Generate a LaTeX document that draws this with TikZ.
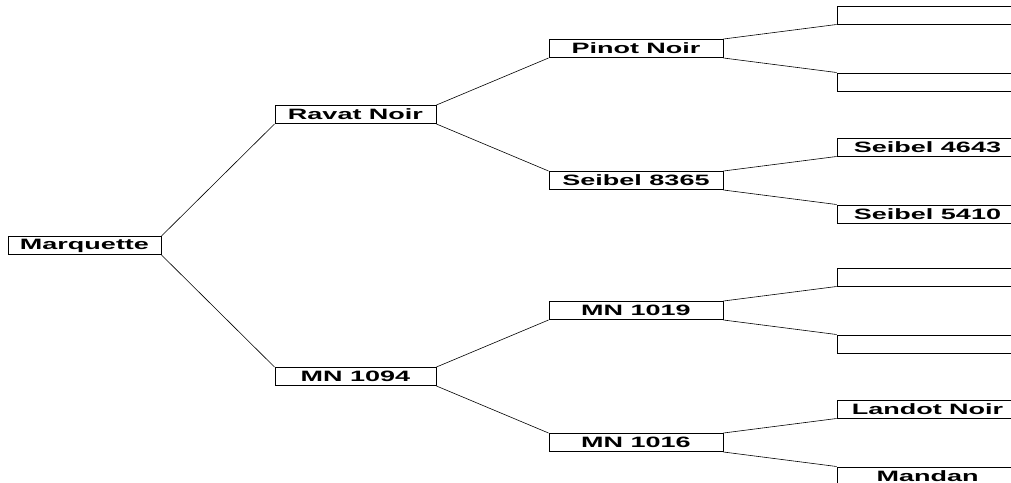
\documentclass[tikz,border=0pt]{standalone}
\usepackage{fontspec}
\setmainfont{Liberation Sans}
\usetikzlibrary{positioning}
\tikzset{
    vine/.style={
           rectangle,
           draw=black, line width=1pt,
           minimum height=18pt,
           inner sep=0pt,
           text centered,
           font=\bfseries\fontsize{15}{15}\selectfont,
           },
}
\newcommand{\wide}[1]{\scalebox{1.8}[1]{#1}}

\begin{document}
\begin{tikzpicture}[semithick]
  \tikzstyle{gen1}=[vine,minimum width=153pt]
  \tikzstyle{gen2}=[vine,minimum width=161pt]
  \tikzstyle{gen3}=[vine,minimum width=174pt]
  \tikzstyle{gen4}=[vine,minimum width=181pt]
  \useasboundingbox (0,0) rectangle (1011pt,-482pt);

  \node[gen1] (MQ) at (84.5pt,-245.5pt)            {\wide{Marquette}};
  \node[gen2] (RN)   [above right=112pt and 113pt of MQ] {\wide{Ravat Noir}};
  \node[gen2] (MN94) [below right=112pt and 113pt of MQ] {\wide{MN 1094}};
  \node[gen3] (PN)    [above right=47pt and 112pt of RN]   {\wide{Pinot Noir}};
  \node[gen3] (S8365) [below right=47pt and 112pt of RN]   {\wide{Seibel 8365}};
  \node[gen3] (MN19)  [above right=47pt and 112pt of MN94] {\wide{MN 1019}};
  \node[gen3] (MN16)  [below right=47pt and 112pt of MN94] {\wide{MN 1016}};
  \node[gen4] (PNa)   [above right=14.5pt and 113pt of PN]    {};
  \node[gen4] (PNb)   [below right=14.5pt and 113pt of PN]    {};
  \node[gen4] (S4643) [above right=14.5pt and 113pt of S8365] {\wide{Seibel 4643}};
  \node[gen4] (S5410) [below right=14.5pt and 113pt of S8365] {\wide{Seibel 5410}};
  \node[gen4] (MN19a) [above right=14.5pt and 113pt of MN19]  {};
  \node[gen4] (MN19b) [below right=14.5pt and 113pt of MN19]  {};
  \node[gen4] (LN)    [above right=14.5pt and 113pt of MN16]  {\wide{Landot Noir}};
  \node[gen4] (MD)    [below right=14.5pt and 113pt of MN16]  {\wide{Mandan}};

  \draw (MQ.north east)   -- (RN.south west);
  \draw (MQ.south east)   -- (MN94.north west);
  \draw (RN.north east)   -- (PN.south west);
  \draw (RN.south east)   -- (S8365.north west);
  \draw (MN94.north east) -- (MN19.south west);
  \draw (MN94.south east) -- (MN16.north west);
  \draw (PN.north east)    -- (PNa.south west);
  \draw (PN.south east)    -- (PNb.north west);
  \draw (S8365.north east) -- (S4643.south west);
  \draw (S8365.south east) -- (S5410.north west);
  \draw (MN19.north east)  -- (MN19a.south west);
  \draw (MN19.south east)  -- (MN19b.north west);
  \draw (MN16.north east)  -- (LN.south west);
  \draw (MN16.south east)  -- (MD.north west);
\end{tikzpicture}
\end{document}
